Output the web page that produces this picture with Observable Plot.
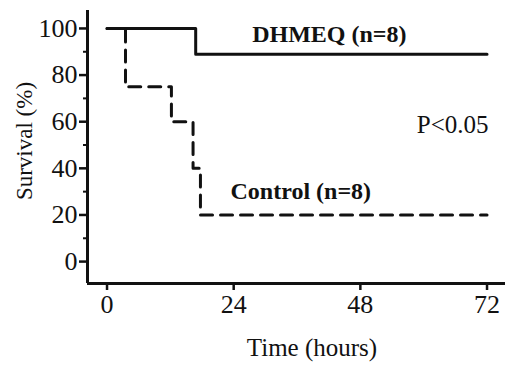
<!DOCTYPE html>
<html>
<head>
<meta charset="utf-8">
<script src="https://cdn.jsdelivr.net/npm/d3@7"></script>
<script src="https://cdn.jsdelivr.net/npm/@observablehq/plot@0.6"></script>
<style>
  html, body { margin: 0; padding: 0; background: #fff; }
  #chart svg { display: block; }
</style>
</head>
<body>
<div id="chart"></div>
<script>
// Data
const dhmeqTime = [0, 16.8, 72];
const dhmeqSurvival = [100, 88.9, 88.9];
const controlTime = [0, 3.5, 12.2, 16.3, 17.7, 72];
const controlSurvival = [100, 75, 60, 40, 20, 20];
const xTicks = [0, 24, 48, 72];
const yTicks = [0, 20, 40, 60, 80, 100];
const yMinorTicks = [10, 30, 50, 70, 90];
const labels = [
  {text: "DHMEQ (n=8)", x: 27.5, y: 97.4},
  {text: "Control (n=8)", x: 23.4, y: 30}
];
const pLabel = {text: "P<0.05", x: 72.3, y: 58.8};

const dhmeq = dhmeqTime.map((t, i) => ({t, s: dhmeqSurvival[i]}));
const control = controlTime.map((t, i) => ({t, s: controlSurvival[i]}));

const xDomain = [-3.7, 75.5];
const yDomain = [-9.4, 107.7];
const font = "'Liberation Serif', 'Times New Roman', serif";

const chart = Plot.plot({
  width: 505,
  height: 367,
  marginLeft: 87,
  marginRight: 0,
  marginTop: 10,
  marginBottom: 84,
  style: {fontFamily: font, color: "#111", background: "#fff"},
  x: {domain: xDomain},
  y: {domain: yDomain},
  marks: [
    Plot.axisX(xTicks, {anchor: "bottom", tickSize: 7, tickPadding: 4, fontSize: 26, strokeWidth: 2.5,
      label: null}),
    Plot.axisY(yTicks, {anchor: "left", tickSize: 8, tickPadding: 2, fontSize: 26, strokeWidth: 2.5,
      label: null}),
    Plot.axisY(yMinorTicks, {anchor: "left", tickSize: 4, text: null, strokeWidth: 2, label: null}),
    Plot.ruleX([xDomain[0]], {stroke: "#111", strokeWidth: 3}),
    Plot.ruleY([yDomain[0]], {stroke: "#111", strokeWidth: 3}),
    Plot.line(dhmeq, {x: "t", y: "s", curve: "step-after", stroke: "#111", strokeWidth: 3}),
    Plot.line(control, {x: "t", y: "s", curve: "step-after", stroke: "#111", strokeWidth: 3,
      strokeDasharray: "12,8"}),
    Plot.text(labels, {x: "x", y: "y", text: "text", fontWeight: "bold", fontSize: 24,
      textAnchor: "start", fill: "#111"}),
    Plot.text([pLabel], {x: "x", y: "y", text: "text", fontSize: 25, textAnchor: "end", fill: "#111"})
  ]
});

const svg = d3.select(chart);
// Axis titles
svg.append("text")
  .attr("x", 312).attr("y", 356)
  .attr("text-anchor", "middle")
  .attr("font-size", 25)
  .attr("font-family", font)
  .attr("fill", "#111")
  .text("Time (hours)");
svg.append("text")
  .attr("transform", "translate(32,141) rotate(-90)")
  .attr("text-anchor", "middle")
  .attr("font-size", 23)
  .attr("font-family", font)
  .attr("fill", "#111")
  .text("Survival (%)");

document.getElementById("chart").appendChild(chart);
</script>
</body>
</html>
